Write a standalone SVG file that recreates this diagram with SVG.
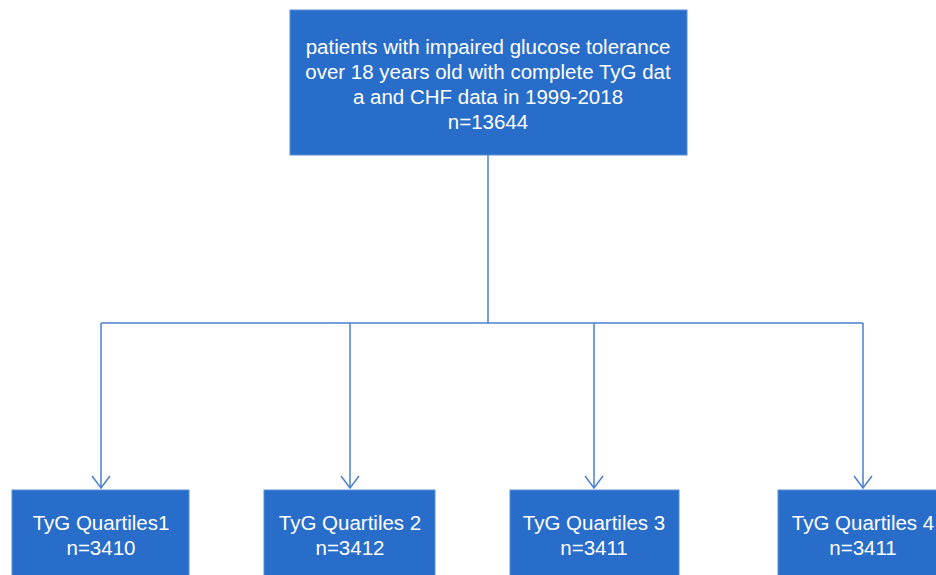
<svg xmlns="http://www.w3.org/2000/svg" width="936" height="575" viewBox="0 0 936 575">
<defs>
<style>
.box{fill:#286dca;stroke:#5b8fd6;stroke-width:1}
.t{font-family:"Liberation Sans",Arial,sans-serif;font-size:20.5px;fill:#ffffff;text-anchor:middle}
.c{fill:none;stroke:#4a80cf;stroke-width:1.5}
</style>
<marker id="arr" markerWidth="16" markerHeight="20" refX="14" refY="10" orient="auto" markerUnits="userSpaceOnUse" viewBox="0 0 16 20">
<path d="M2,1 L14,10 L2,19" fill="none" stroke="#4a80cf" stroke-width="1.5"/>
</marker>
</defs>
<rect width="936" height="575" fill="#ffffff"/>
<g id="connectors">
<path class="c" d="M488,155 V323"/>
<path class="c" d="M101,323 H863"/>
<path class="c" d="M101,323 V488" marker-end="url(#arr)"/>
<path class="c" d="M350,323 V488" marker-end="url(#arr)"/>
<path class="c" d="M594,323 V488" marker-end="url(#arr)"/>
<path class="c" d="M863,323 V488" marker-end="url(#arr)"/>
</g>
<g id="top">
<rect class="box" x="290" y="10" width="397" height="145"/>
<text class="t" x="488" y="54">patients with impaired glucose tolerance</text>
<text class="t" x="488" y="79">over 18 years old with complete TyG dat</text>
<text class="t" x="488" y="104">a and CHF data in 1999-2018</text>
<text class="t" x="488" y="129">n=13644</text>
</g>
<g id="q1">
<rect class="box" x="12" y="490" width="177" height="95"/>
<text class="t" x="101" y="530">TyG Quartiles1</text>
<text class="t" x="101" y="555">n=3410</text>
</g>
<g id="q2">
<rect class="box" x="264" y="490" width="171" height="95"/>
<text class="t" x="350" y="530">TyG Quartiles 2</text>
<text class="t" x="350" y="555">n=3412</text>
</g>
<g id="q3">
<rect class="box" x="510" y="490" width="169" height="95"/>
<text class="t" x="594" y="530">TyG Quartiles 3</text>
<text class="t" x="594" y="555">n=3411</text>
</g>
<g id="q4">
<rect class="box" x="778" y="490" width="170" height="95"/>
<text class="t" x="863" y="530">TyG Quartiles 4</text>
<text class="t" x="863" y="555">n=3411</text>
</g>
</svg>
